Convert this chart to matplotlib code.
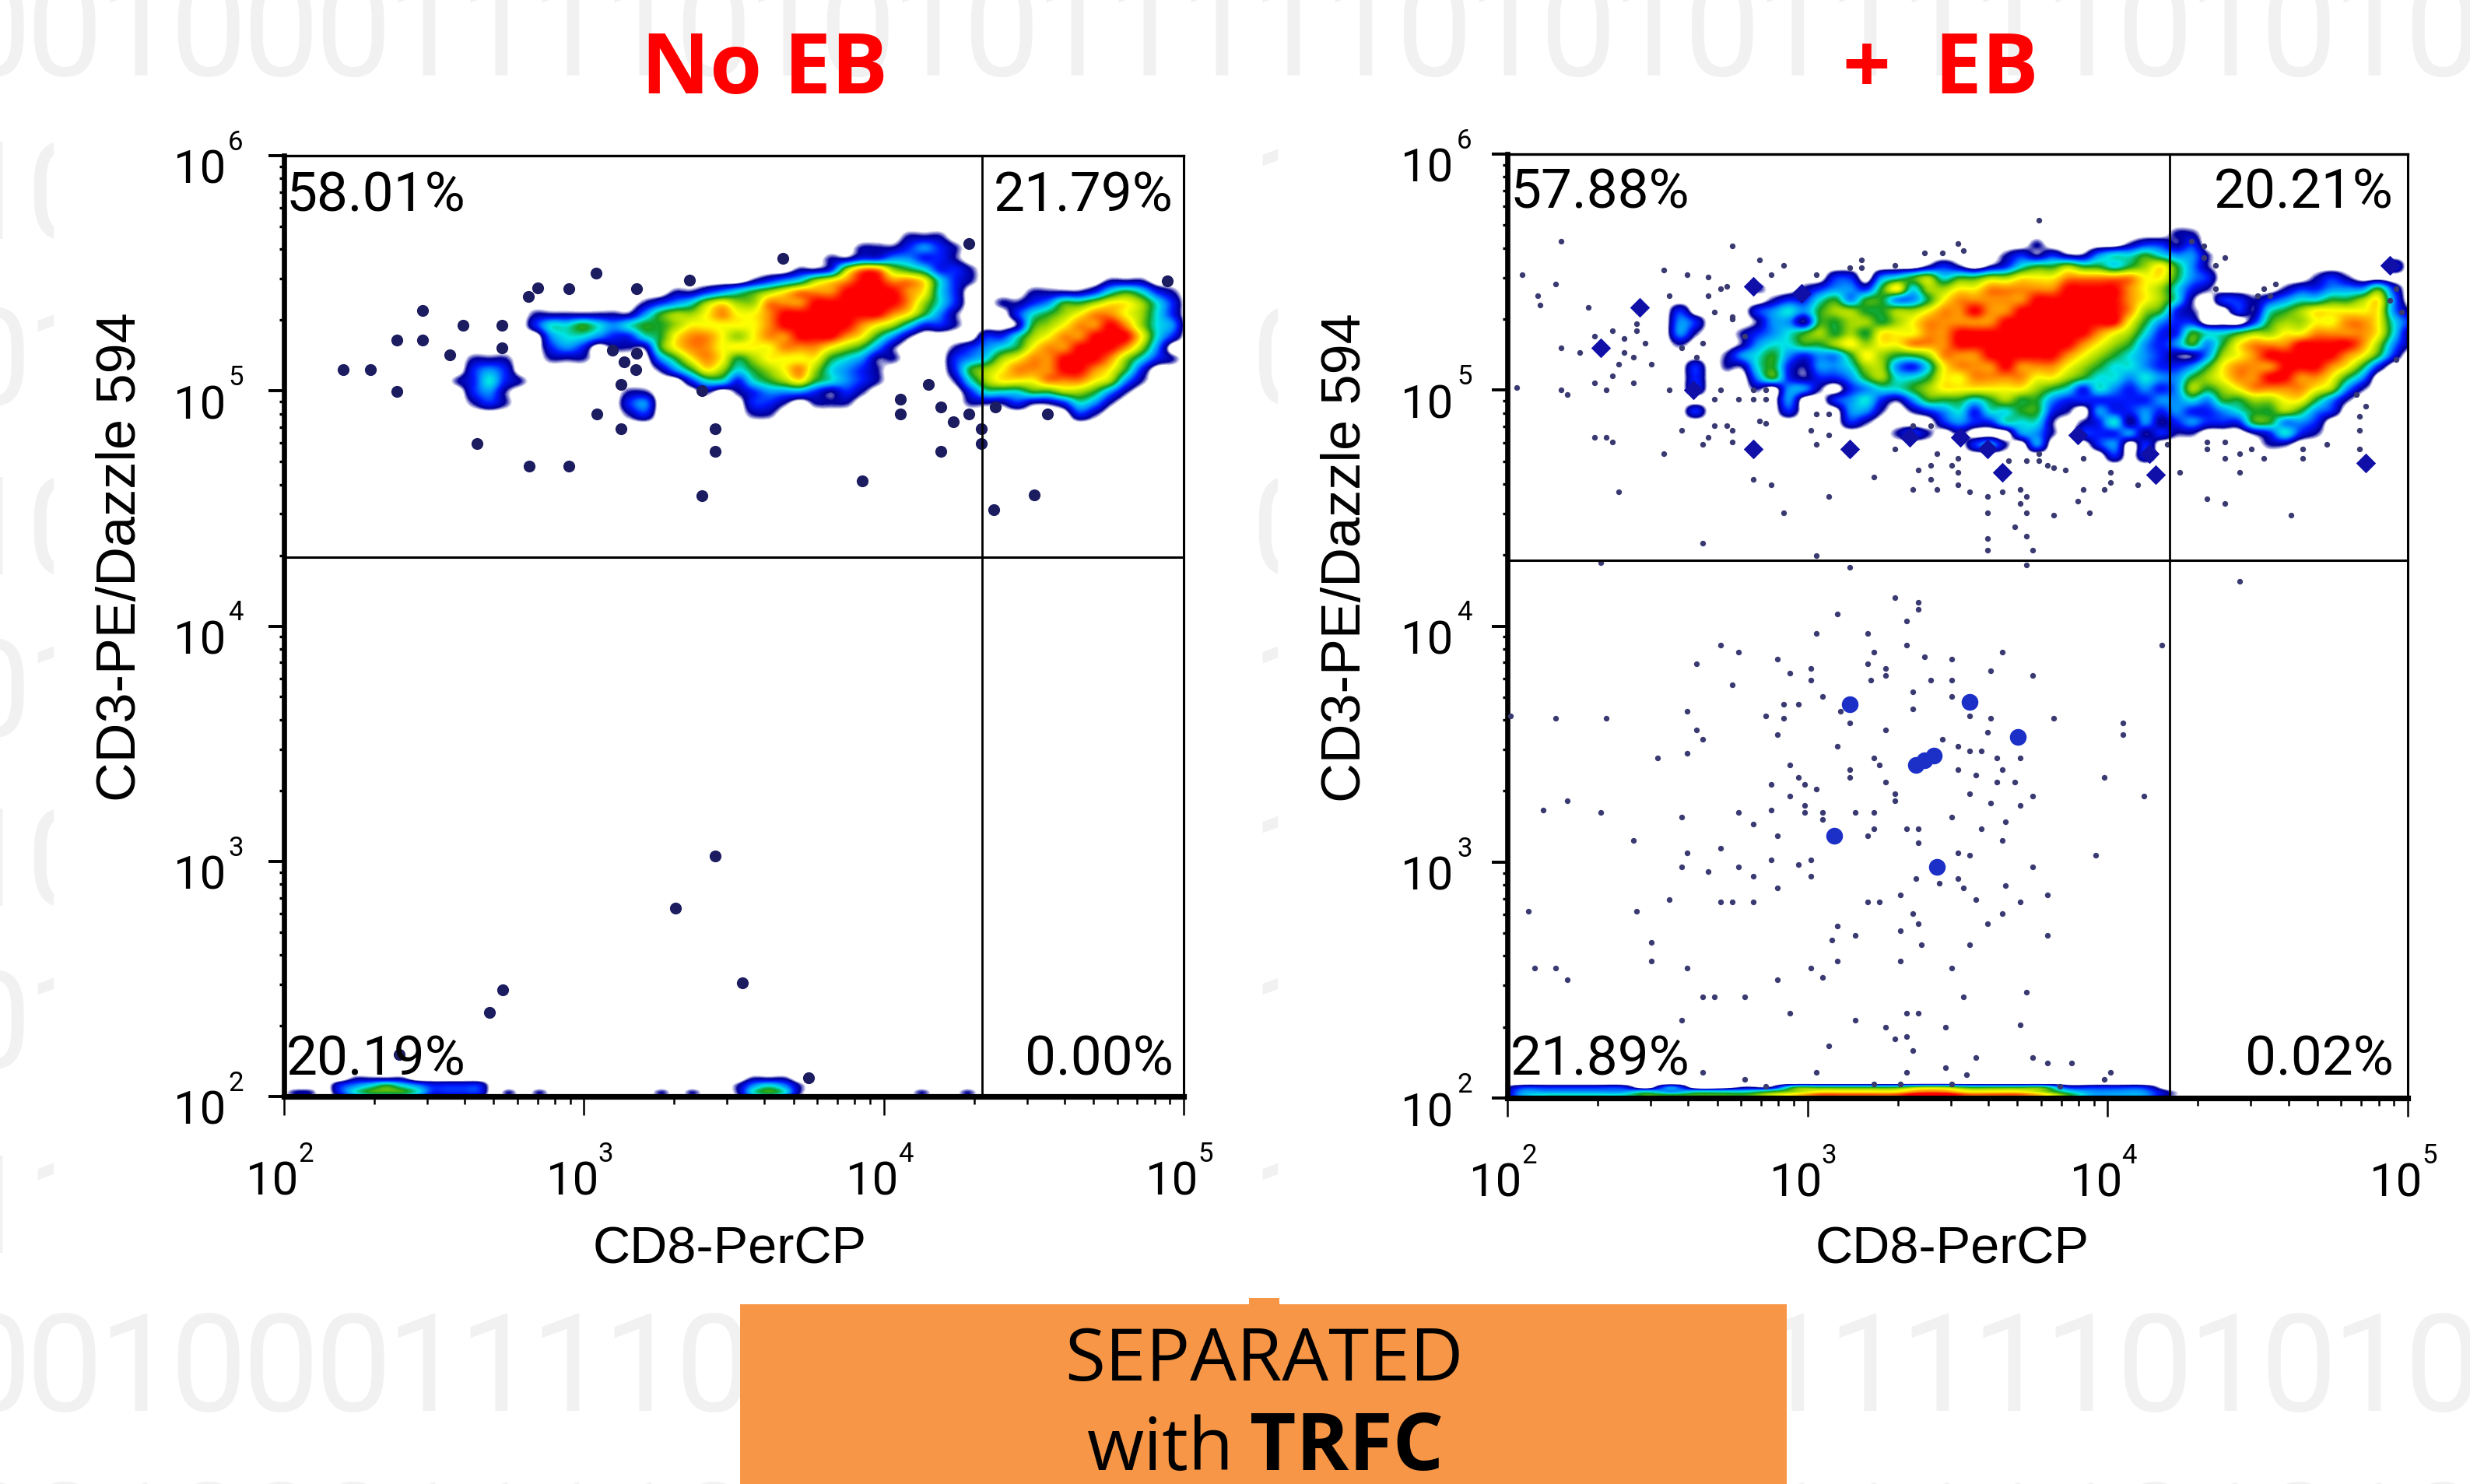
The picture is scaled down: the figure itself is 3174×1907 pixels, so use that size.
import matplotlib
matplotlib.use('Agg')
import matplotlib.pyplot as plt
from matplotlib.colors import LinearSegmentedColormap
from matplotlib.patches import Rectangle
from matplotlib.ticker import LogLocator, NullFormatter
import numpy as np

plt.rcParams['font.family'] = ['Liberation Sans', 'DejaVu Sans']

W, H = 3174, 1908
PX = 0.36  # points per pixel at dpi 200

WATERMARK = "00100011110101011111010101111101010"
# rows that only peek out beside the chart pictures
WATERMARK_MID = ["1001000111101010111", "0101000111101010110", "1001000111101010110",
                 "0101000111101010111", "1001000111101010111", "0101000111101010111",
                 "1101000111101010111"]
X_DECADES = [2, 3, 4, 5]
Y_DECADES = [2, 3, 4, 5, 6]

LEFT_PCT = ["58.01%", "21.79%", "20.19%", "0.00%"]
RIGHT_PCT = ["57.88%", "20.21%", "21.89%", "0.02%"]
LEFT_GATE = (21280, 19630)
RIGHT_GATE = (16070, 19010)

# density level 0-9 read per bin: (row, first column, levels), decades for the grid limits
LEFT_EXTENT = (2.555, 4.987, 4.875, 5.679)
LEFT_SHAPE = (17, 47)
LEFT_BLOCKS = [
    (0, 29, "111"),
    (1, 26, "1112321"),
    (2, 24, "112233221"),
    (3, 22, "112688654221"),
    (4, 19, "123467899887421"), (4, 42, "111"),
    (5, 14, "1123456788899998742"), (5, 37, "1111245421"),
    (6, 12, "123467668889999998642"), (6, 35, "112355677642"),
    (7, 5, "1111111356678778999999987531"), (7, 36, "24567887642"),
    (8, 5, "2445434556777778999998764221"), (8, 36, "15678898643"),
    (9, 6, "344322457887678899987531"), (9, 34, "2246788999742"),
    (10, 6, "23201115788777788876531"), (10, 32, "12345788999863"),
    (11, 1, "111"), (11, 6, "111"), (11, 13, "3578756777754311"), (11, 32, "234678899986421"),
    (12, 1, "232"), (12, 13, "135764567864321"), (12, 32, "2567888998752"),
    (13, 0, "12421"), (13, 15, "2442456754321"), (13, 32, "1467778887631"),
    (14, 1, "231"), (14, 11, "11"), (14, 16, "10123332121"), (14, 33, "24445566531"),
    (15, 1, "121"), (15, 11, "23"), (15, 19, "2210111"), (15, 33, "1112112431"),
    (16, 11, "12"), (16, 19, "11"), (16, 40, "21"),
]
LEFT_STRIP_EXTENT = (2.01, 4.305, 2.0, 2.09)
LEFT_STRIP_SHAPE = (3, 45)
LEFT_STRIP_BLOCKS = [
    (0, 4, "1111"), (0, 30, "111"),
    (1, 3, "2345432222"), (1, 29, "13431"),
    (2, 0, "11"), (2, 3, "2455542222"), (2, 14, "1"), (2, 16, "1"), (2, 24, "1"),
    (2, 26, "1"), (2, 29, "14541"), (2, 41, "1"), (2, 44, "1"),
]

RIGHT_EXTENT = (2.55, 5.031, 4.697, 5.686)
RIGHT_SHAPE = (21, 48)
RIGHT_BLOCKS = [
    (0, 32, "11"),
    (1, 23, "1"), (1, 29, "12212"),
    (2, 21, "12121134454331"),
    (3, 16, "121"), (3, 20, "124556554567531"), (3, 46, "2"),
    (4, 10, "22"), (4, 13, "3456455667778888877532"), (4, 41, "121"),
    (5, 5, "1"), (5, 8, "12332"), (5, 13, "5746677888889999876421"), (5, 39, "12233352"),
    (6, 6, "1224535533578888899999987641"), (6, 35, "221234455673"),
    (7, 0, "2"), (7, 5, "23435665566788988999999986521"), (7, 36, "214567777731"),
    (8, 0, "32"), (8, 5, "13315566567888889999999975322"), (8, 37, "25667788742"),
    (9, 0, "31"), (9, 4, "12345656577788999999999876422544566778888741"),
    (10, 0, "1"), (10, 4, "13445567677888999999998765323535788899998631"),
    (11, 3, "13453233576556888999998765432113678999998752"),
    (12, 1, "2"), (12, 3, "1145213346632478889888765443223578889998752"),
    (13, 1, "2"), (13, 5, "3521223564457788887765443433567889988753"),
    (14, 1, "2"), (14, 5, "1"), (14, 7, "331"), (14, 11, "234456777777654243232365678888" + "7631"),
    (15, 7, "3"), (15, 10, "2342135554565532222223343556677531"),
    (16, 1, "2"), (16, 7, "2"), (16, 11, "33101234244552103223232234556532"),
    (17, 11, "21"), (17, 17, "2322444101241312322255332"),
    (18, 14, "121"), (18, 18, "1"), (18, 22, "331"), (18, 26, "22231211"), (18, 37, "12421"),
    (19, 19, "231"), (19, 23, "3"), (19, 27, "23"), (19, 30, "2"), (19, 38, "11"),
    (20, 28, "2"), (20, 30, "2"),
]
RIGHT_STRIP_EXTENT = (2.008, 4.24, 2.0, 2.053)
RIGHT_STRIP_SHAPE = (3, 27)
RIGHT_STRIP_BLOCKS = [
    (0, 0, "222220300115555566555522220"),
    (1, 0, "333334344456777788777643331"),
    (2, 0, "344445555567888899888753331"),
]

# single events, log10 of the channel value
LEFT_DOT_X = [3.04, 2.845, 2.814, 2.949, 3.176, 3.352, 3.663, 4.284, 4.946, 2.463, 2.597, 2.727, 2.376,
              2.463, 2.727, 2.552, 2.198, 2.287, 2.376, 3.125, 3.172, 3.135, 3.094, 3.176, 3.042, 3.394,
              4.149, 4.056, 4.056, 4.19, 4.284, 4.232, 4.325, 4.325, 3.439, 3.439, 4.19, 2.643, 2.818,
              2.951, 3.928, 3.394, 4.501, 4.368, 3.125, 4.373, 4.546,
              3.438, 3.305, 3.529, 2.729, 2.685, 2.383, 3.749]
LEFT_DOT_Y = [5.499, 5.437, 5.402, 5.435, 5.435, 5.469, 5.564, 5.626, 5.467, 5.34, 5.28, 5.28, 5.216,
              5.216, 5.183, 5.154, 5.089, 5.089, 4.997, 5.027, 5.089, 5.124, 5.172, 5.16, 4.902, 5.0,
              5.027, 4.965, 4.902, 4.933, 4.902, 4.87, 4.838, 4.775, 4.838, 4.744, 4.744, 4.775, 4.681,
              4.681, 4.618, 4.555, 4.557, 4.494, 4.84, 4.933, 4.902,
              3.023, 2.801, 2.484, 2.454, 2.358, 2.179, 2.08]

RIGHT_DOT_X = [
    3.77, 2.18, 2.75, 3.50, 3.52, 3.39, 3.45, 2.84, 2.92, 3.18, 3.18, 3.14, 3.29, 2.05, 2.52, 2.60, 2.67, 2.88, 3.03,
    2.16, 2.73, 2.71, 2.10, 2.11, 2.54, 2.67, 2.27, 2.69, 2.75, 2.43, 2.43, 2.35, 2.29, 2.39, 2.46, 2.18, 2.24, 2.39,
    2.42, 2.75, 2.79, 2.65, 2.58, 2.63, 2.37, 2.48, 2.35, 2.29, 2.42, 2.03, 2.18, 2.20, 2.33, 2.54, 2.71, 2.77, 2.82,
    2.86, 2.69, 2.82, 2.86, 4.32, 4.39, 4.36, 4.32, 4.28, 4.52, 4.56, 4.50, 4.54, 4.36, 4.94, 4.96, 4.98, 4.96, 4.83,
    4.86, 4.84, 4.84, 4.84, 4.73, 4.65, 4.65, 4.33, 4.39, 4.33, 4.48, 4.44, 4.39, 4.52, 4.20, 4.24, 4.44, 2.58, 2.69,
    2.73, 2.75, 2.67, 2.75, 2.65, 2.29, 2.33, 2.35, 2.52, 2.84, 2.86, 3.01, 3.07, 3.03, 3.03, 3.07, 3.29, 3.35, 3.41,
    3.43, 3.41, 3.37, 3.48, 3.50, 3.50, 3.22, 3.41, 3.43, 3.35, 3.50, 3.54, 3.60, 3.65, 3.67, 3.73, 3.80, 3.82, 3.86,
    3.77, 3.77, 3.92, 4.01, 4.01, 3.92, 3.99, 4.10, 3.90, 3.71, 3.73, 3.71, 3.60, 3.73, 3.82, 3.94, 3.69, 3.73, 3.60,
    3.60, 3.75, 2.82, 2.88, 2.37, 3.07, 2.92, 2.65, 3.03, 4.33, 4.39, 4.61, 2.31, 3.14, 3.73,
    4.44, 3.29, 3.37, 3.37, 3.10, 3.33, 3.03, 3.20, 3.33, 2.71, 4.18, 2.77, 3.22, 3.65, 3.39, 3.48, 2.90, 2.63, 3.20,
    3.01, 3.26, 3.61, 2.94, 3.26, 3.75, 3.01, 3.21, 3.41, 3.48, 2.75, 3.35, 3.05, 3.48, 2.92, 2.97, 3.35, 2.60, 3.11,
    2.86, 3.54, 3.61, 2.16, 2.33, 2.92, 3.82, 2.01, 3.14, 4.05, 2.63, 3.26, 3.60, 2.90, 4.05, 2.65, 3.45, 3.10, 3.50,
    3.54, 3.58, 2.60, 2.50, 3.22, 3.63, 3.71, 2.94, 3.24, 3.50, 3.65, 3.14, 3.14, 3.56, 2.97, 3.99, 3.26, 3.63, 3.69,
    2.88, 2.99, 3.03, 3.29, 3.54, 2.94, 3.75, 4.12, 3.29, 2.20, 3.61, 3.71, 2.99, 2.12, 2.88, 2.31, 2.77, 2.99, 3.05,
    3.16, 3.22, 2.58, 3.48, 3.05, 3.66, 2.82, 3.22, 3.33, 3.37, 3.58, 2.90, 3.20, 3.65, 2.42, 3.37, 2.71, 2.60, 3.50,
    3.54, 3.96, 2.88, 3.01, 2.97, 2.58, 2.77, 3.75, 2.67, 2.82, 3.01, 3.36, 3.50, 3.44, 3.52, 3.66, 2.90, 3.31, 3.80,
    2.54, 3.56, 2.71, 2.75, 2.82, 3.20, 3.24, 3.71, 2.07, 2.43, 3.35, 3.65, 3.37, 3.60, 3.10, 3.31, 3.16, 3.80, 3.08,
    3.38, 2.48, 3.54, 2.48, 3.10, 3.31, 2.09, 2.16, 2.60, 3.01, 3.48, 3.05, 2.20, 2.90, 3.73, 2.65, 2.69, 2.79, 3.52,
    2.94, 3.33, 3.37, 2.58, 3.16, 3.71, 3.26, 3.46, 3.33, 3.29, 3.07, 3.35, 3.56, 3.75, 3.80, 3.88, 3.46, 2.65, 3.03,
    3.33, 4.01, 3.53, 2.79, 3.99, 3.22, 3.31, 3.48, 2.86, 3.84,
]
RIGHT_DOT_Y = [
    5.72, 5.63, 5.61, 5.62, 5.59, 5.58, 5.58, 5.55, 5.53, 5.55, 5.52, 5.52, 5.53, 5.49, 5.51, 5.49, 5.48, 5.49, 5.49,
    5.45, 5.44, 5.43, 5.40, 5.36, 5.40, 5.40, 5.35, 5.33, 5.31, 5.28, 5.25, 5.25, 5.23, 5.22, 5.20, 5.18, 5.16, 5.16,
    5.14, 5.30, 5.23, 5.20, 5.18, 5.14, 5.11, 5.11, 5.06, 5.03, 5.03, 5.01, 5.00, 4.98, 5.00, 5.00, 5.00, 4.96, 4.96,
    4.96, 4.96, 5.00, 5.00, 5.56, 5.56, 5.53, 5.61, 5.63, 5.43, 5.45, 5.40, 5.40, 5.43, 5.38, 5.43, 5.33, 5.13, 4.98,
    4.93, 4.89, 4.83, 4.75, 4.77, 4.75, 4.71, 4.78, 4.78, 4.75, 4.75, 4.73, 4.71, 4.71, 4.77, 4.65, 4.65, 4.83, 4.85,
    4.85, 4.83, 4.80, 4.78, 4.77, 4.80, 4.80, 4.78, 4.73, 4.87, 4.86, 4.83, 4.81, 4.77, 4.90, 4.90, 4.75, 4.85, 4.85,
    4.73, 4.68, 4.66, 4.68, 4.71, 4.65, 4.63, 4.62, 4.58, 4.58, 4.60, 4.57, 4.55, 4.57, 4.70, 4.70, 4.68, 4.67, 4.66,
    4.73, 4.70, 4.71, 4.65, 4.61, 4.58, 4.58, 4.60, 4.53, 4.58, 4.55, 4.52, 4.48, 4.48, 4.47, 4.48, 4.42, 4.38, 4.37,
    4.32, 4.32, 4.62, 4.60, 4.57, 4.55, 4.48, 4.35, 4.30, 4.54, 4.52, 4.47, 4.27, 4.25, 4.26,
    4.19, 4.12, 4.10, 4.07, 4.05, 4.02, 3.97, 3.97, 3.92, 3.92, 3.92, 3.89, 3.89, 3.89, 3.87, 3.86, 3.86, 3.84, 3.84,
    3.82, 3.82, 3.81, 3.80, 3.79, 3.79, 3.77, 3.77, 3.77, 3.77, 3.75, 3.72, 3.70, 3.70, 3.67, 3.67, 3.65, 3.64, 3.64,
    3.62, 3.62, 3.61, 3.61, 3.61, 3.61, 3.61, 3.62, 3.59, 3.59, 3.56, 3.56, 3.55, 3.54, 3.54, 3.52, 3.52, 3.49, 3.49,
    3.47, 3.47, 3.46, 3.44, 3.44, 3.44, 3.44, 3.41, 3.41, 3.39, 3.39, 3.39, 3.36, 3.37, 3.36, 3.36, 3.34, 3.34, 3.34,
    3.33, 3.33, 3.31, 3.29, 3.29, 3.28, 3.28, 3.28, 3.26, 3.26, 3.25, 3.24, 3.24, 3.22, 3.22, 3.21, 3.21, 3.21, 3.21,
    3.21, 3.21, 3.19, 3.19, 3.18, 3.17, 3.16, 3.14, 3.14, 3.14, 3.14, 3.11, 3.11, 3.09, 3.09, 3.08, 3.06, 3.04, 3.04,
    3.03, 3.03, 3.01, 3.01, 2.99, 2.98, 2.98, 2.98, 2.96, 2.94, 2.94, 2.93, 2.93, 2.91, 2.89, 2.90, 2.89, 2.86, 2.86,
    2.84, 2.84, 2.83, 2.83, 2.83, 2.83, 2.83, 2.83, 2.79, 2.79, 2.78, 2.78, 2.74, 2.74, 2.73, 2.71, 2.69, 2.69, 2.67,
    2.65, 2.66, 2.65, 2.58, 2.58, 2.58, 2.55, 2.55, 2.55, 2.55, 2.55, 2.51, 2.50, 2.50, 2.45, 2.43, 2.43, 2.43, 2.43,
    2.36, 2.36, 2.36, 2.33, 2.33, 2.31, 2.30, 2.30, 2.26, 2.25, 2.22, 2.20, 2.17, 2.17, 2.15, 2.15, 2.13, 2.11, 2.11,
    2.11, 2.11, 2.10, 2.08, 2.08, 2.06, 2.06, 2.06, 2.05, 2.05,
]
# small clumps of events
RIGHT_CLUMP_X = [2.44, 2.31, 2.82, 2.98, 2.82, 3.14, 3.34, 3.51, 4.14, 3.65, 4.16, 4.86, 4.94, 2.62, 3.60, 3.90]
RIGHT_CLUMP_Y = [5.35, 5.18, 5.44, 5.41, 4.75, 4.75, 4.80, 4.80, 4.73, 4.65, 4.64, 4.69, 5.53, 5.00, 4.75, 4.81]
RIGHT_LOW_CLUMP_X = [3.14, 3.54, 3.70, 3.36, 3.39, 3.42, 3.09, 3.43]
RIGHT_LOW_CLUMP_Y = [3.67, 3.68, 3.53, 3.41, 3.43, 3.45, 3.11, 2.98]

ORANGE = '#F79646'
density_cmap = LinearSegmentedColormap.from_list('flow', [
    (0.0, '#ffffff'), (0.45 / 9, '#ffffff'), (1 / 9, '#00009a'), (2 / 9, '#0018ff'), (3 / 9, '#0090ff'),
    (4 / 9, '#00e6e6'), (5 / 9, '#14a020'), (6 / 9, '#a0d800'), (7 / 9, '#ffff00'), (8 / 9, '#ff9000'),
    (1.0, '#ff0000')])


def build_density(blocks, shape):
    grid = np.zeros(shape)
    for row, col, levels in blocks:
        for k, ch in enumerate(levels):
            if col + k < shape[1]:
                grid[row, col + k] = int(ch)
    return grid


def px_axes(x0, y0, x1, y1, **kw):
    return fig.add_axes([x0 / W, 1 - y1 / H, (x1 - x0) / W, (y1 - y0) / H], **kw)


def flow_panel(box, images, dots, dot_style, clumps, gate, pct, pct_pos, sup_dx, y_dx):
    x0, y0, x1, y1 = box

    # density image lives on a linear decade axes behind the log axes
    img_ax = px_axes(x0, y0, x1, y1, zorder=1)
    img_ax.axis('off')
    for grid, (xa, xb, ya, yb) in images:
        # one empty bin all round so the blobs fade out instead of ending at the grid edge
        dx = (xb - xa) / grid.shape[1]
        dy = (yb - ya) / grid.shape[0]
        img_ax.imshow(np.pad(grid, 1), extent=(xa - dx, xb + dx, ya - dy, yb + dy), origin='upper', aspect='auto',
                      cmap=density_cmap, vmin=0, vmax=9, interpolation='catrom', interpolation_stage='data')
    img_ax.set_xlim(2, 5)
    img_ax.set_ylim(2, 6)

    ax = px_axes(x0, y0, x1, y1, zorder=2)
    ax.patch.set_alpha(0)
    ax.set_xscale('log')
    ax.set_yscale('log')
    ax.set_xlim(1e2, 1e5)
    ax.set_ylim(1e2, 1e6)

    ax.scatter(10.0 ** np.array(dots[0]), 10.0 ** np.array(dots[1]), linewidths=0, zorder=3, **dot_style)
    for cx, cy, col, size, mk in clumps:
        ax.scatter(10.0 ** np.array(cx), 10.0 ** np.array(cy), s=size, color=col, marker=mk, linewidths=0, zorder=3)

    ax.axvline(gate[0], color='k', lw=1.0, zorder=4)
    ax.axhline(gate[1], color='k', lw=1.1, zorder=4)

    ax.spines['left'].set_linewidth(2.4)
    ax.spines['bottom'].set_linewidth(2.6)
    ax.spines['top'].set_linewidth(1.2)
    ax.spines['right'].set_linewidth(1.1)

    ax.xaxis.set_major_locator(LogLocator(base=10, numticks=10))
    ax.yaxis.set_major_locator(LogLocator(base=10, numticks=10))
    ax.xaxis.set_minor_locator(LogLocator(base=10, subs=range(2, 10), numticks=20))
    ax.yaxis.set_minor_locator(LogLocator(base=10, subs=range(2, 10), numticks=20))
    ax.xaxis.set_major_formatter(NullFormatter())
    ax.yaxis.set_major_formatter(NullFormatter())
    ax.xaxis.set_minor_formatter(NullFormatter())
    ax.yaxis.set_minor_formatter(NullFormatter())
    ax.tick_params(axis='x', which='major', length=8.6, width=0.9, direction='out')
    ax.tick_params(axis='x', which='minor', length=3.6, width=0.9, direction='out')
    ax.tick_params(axis='y', which='major', length=7.2, width=1.4, direction='out')
    ax.tick_params(axis='y', which='minor', length=2.2, width=1.2, direction='out')

    for d in X_DECADES:
        ax.annotate('10', xy=(10.0 ** d, 0), xycoords=('data', 'axes fraction'), xytext=(-15 * PX, -126 * PX),
                    textcoords='offset points', ha='center', va='baseline', fontsize=21.5, family='Roboto')
        ax.annotate(str(d), xy=(10.0 ** d, 0), xycoords=('data', 'axes fraction'), xytext=(18 * PX, -83 * PX),
                    textcoords='offset points', ha='left', va='baseline', fontsize=12.5, family='Roboto')
    for d in Y_DECADES:
        ax.annotate('10', xy=(0, 10.0 ** d), xycoords=('axes fraction', 'data'), xytext=(y_dx * PX, -35 * PX),
                    textcoords='offset points', ha='right', va='baseline', fontsize=21.5, family='Roboto')
        ax.annotate(str(d), xy=(0, 10.0 ** d), xycoords=('axes fraction', 'data'), xytext=(sup_dx * PX, 8 * PX),
                    textcoords='offset points', ha='left', va='baseline', fontsize=12.5, family='Roboto')

    for label, (tx, ty, ha) in zip(pct, pct_pos):
        ov.text(tx, ty, label, ha=ha, va='baseline', fontsize=25.6, family='Roboto', zorder=10)


fig = plt.figure(figsize=(W / 200, H / 200), dpi=200, facecolor='white')

# slide background: faint binary rows, with the white chart pictures over them
bg = px_axes(0, 0, W, H, zorder=0)
bg.set_xlim(0, W)
bg.set_ylim(H, 0)
bg.axis('off')
rows = [(97, WATERMARK)]
for row_y, digits in zip([307, 520, 738, 946, 1164, 1372, 1610], WATERMARK_MID):
    rows.append((row_y, digits))
rows += [(1813, WATERMARK), (2030, WATERMARK)]
for row_y, digits in rows:
    for k, digit in enumerate(digits):
        bg.text(-10 + 92.6 * k, row_y, digit, fontsize=63, family='Roboto', color='#f1f1f1', ha='center',
                va='baseline', clip_on=True)
bg.add_patch(Rectangle((70, 150), 1540, 1505, color='white', zorder=3))
bg.add_patch(Rectangle((1643, 150), W - 1643, 1505, color='white', zorder=3))
bg.add_patch(Rectangle((951, 1677), 1345, 231, color=ORANGE, lw=0, zorder=4))
bg.add_patch(Rectangle((1605, 1669), 39, 10, color=ORANGE, lw=0, zorder=4))

ov = px_axes(0, 0, W, H, zorder=5)
ov.set_xlim(0, W)
ov.set_ylim(H, 0)
ov.axis('off')

flow_panel((365, 201, 1521, 1410),
           [(build_density(LEFT_BLOCKS, LEFT_SHAPE), LEFT_EXTENT),
            (build_density(LEFT_STRIP_BLOCKS, LEFT_STRIP_SHAPE), LEFT_STRIP_EXTENT)],
           (LEFT_DOT_X, LEFT_DOT_Y), dict(s=30, color='#1c1c60'), [],
           LEFT_GATE, LEFT_PCT,
           [(368, 272, 'left'), (1508, 272, 'right'), (368, 1382, 'left'), (1508, 1382, 'right')],
           sup_dx=-72, y_dx=-75)

flow_panel((1937, 199, 3094, 1412),
           [(build_density(RIGHT_BLOCKS, RIGHT_SHAPE), RIGHT_EXTENT),
            (build_density(RIGHT_STRIP_BLOCKS, RIGHT_STRIP_SHAPE), RIGHT_STRIP_EXTENT)],
           (RIGHT_DOT_X, RIGHT_DOT_Y), dict(s=7, color='#3a3a72'),
           [(RIGHT_CLUMP_X, RIGHT_CLUMP_Y, '#1010a8', 42, 'D'), (RIGHT_LOW_CLUMP_X, RIGHT_LOW_CLUMP_Y, '#1c30c8', 60, 'o')],
           RIGHT_GATE, RIGHT_PCT,
           [(1941, 267, 'left'), (3076, 267, 'right'), (1941, 1382, 'left'), (3076, 1382, 'right')],
           sup_dx=-65, y_dx=-70)

ov.text(982, 120, 'No EB', color='#ff0000', fontsize=39, fontweight='bold', family='Open Sans', ha='center', va='baseline')
ov.text(2494, 120, '+  EB', color='#ff0000', fontsize=39, fontweight='bold', family='Open Sans', ha='center', va='baseline')

ov.text(938, 1624, 'CD8-PerCP', fontsize=24, ha='center', va='baseline')
ov.text(2509, 1624, 'CD8-PerCP', fontsize=24, ha='center', va='baseline')
ov.text(174, 716, 'CD3-PE/Dazzle 594', fontsize=25.3, rotation=90, ha='center', va='baseline', rotation_mode='anchor')
ov.text(1748, 717, 'CD3-PE/Dazzle 594', fontsize=25.3, rotation=90, ha='center', va='baseline', rotation_mode='anchor')

ov.text(1624, 1774, 'SEPARATED', fontsize=34, family='Open Sans', ha='center', va='baseline')
ov.text(1397, 1889, 'with', fontsize=34, family='Open Sans', ha='left', va='baseline')
ov.text(1606, 1889, 'TRFC', fontsize=37, fontweight='bold', family='Open Sans', ha='left', va='baseline')

fig.savefig('out.png', dpi=200)
